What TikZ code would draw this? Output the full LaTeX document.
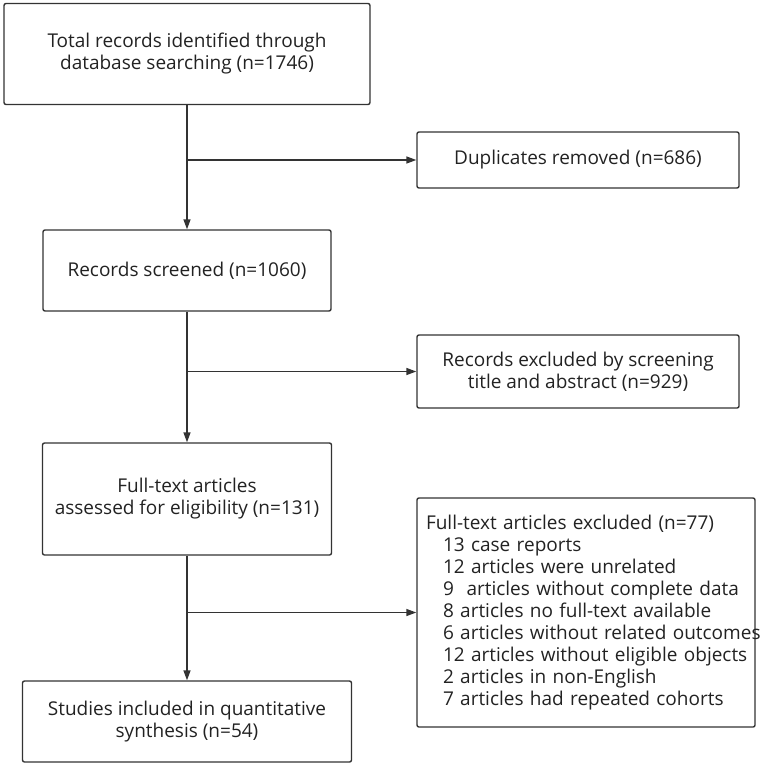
\documentclass[tikz,border=0pt]{standalone}
\usepackage{fontspec}
\setmainfont{Open Sans}
\usetikzlibrary{arrows.meta}
\definecolor{ln}{HTML}{333333}
\definecolor{tx}{HTML}{222222}
\tikzset{
  box/.style={draw=ln, line width=1.4pt, rounded corners=2pt, align=center,
    text=tx, font=\fontsize{19}{22}\selectfont, inner sep=0pt},
  arr/.style={draw=ln, line width=1.4pt, -{Triangle[length=10pt,width=7pt]}},
  ln/.style={draw=ln, line width=1.4pt}
}
\begin{document}
\begin{tikzpicture}[x=1pt,y=-1pt]
\useasboundingbox (0,0) rectangle (760,766);
\node[box, minimum width=366pt, minimum height=101pt] (b1) at (187,54)
  {Total records identified through\\database searching (n=1746)};
\node[box, minimum width=322pt, minimum height=56pt] (dup) at (578,160)
  {Duplicates removed (n=686)};
\node[box, minimum width=288pt, minimum height=81pt] (b2) at (187,270.5)
  {Records screened (n=1060)};
\node[box, minimum width=322pt, minimum height=73pt] (ex1) at (578,371.5)
  {Records excluded by screening\\title and abstract (n=929)};
\node[box, minimum width=289pt, minimum height=112pt] (b3) at (187,499)
  {Full-text articles\\assessed for eligibility (n=131)};
\node[box, minimum width=329pt, minimum height=81pt] (b4) at (187,721.5)
  {Studies included in quantitative\\synthesis (n=54)};
\node[box, align=left, text width=320pt, inner xsep=9pt, minimum height=229pt] (ex2) at (586,612.5)
  {\mbox{Full-text articles excluded (n=77)}\\
   \mbox{\hspace*{17pt}13 case reports}\\
   \mbox{\hspace*{17pt}12 articles were unrelated}\\
   \mbox{\hspace*{17pt}9\ \ articles without complete data}\\
   \mbox{\hspace*{17pt}8 articles no full-text available}\\
   \mbox{\hspace*{17pt}6 articles without related outcomes}\\
   \mbox{\hspace*{17pt}12 articles without eligible objects}\\
   \mbox{\hspace*{17pt}2 articles in non-English}\\
   \mbox{\hspace*{17pt}7 articles had repeated cohorts}};
\draw[arr] (b1) -- (b2);
\draw[arr] (b2) -- (b3);
\draw[arr] (b3) -- (b4);
\draw[arr] (b1.south |- dup.west) -- (dup.west);
\draw[arr] (b2.south |- ex1.west) -- (ex1.west);
\draw[arr] (b3.south |- ex2.west) -- (ex2.west);
\end{tikzpicture}
\end{document}
